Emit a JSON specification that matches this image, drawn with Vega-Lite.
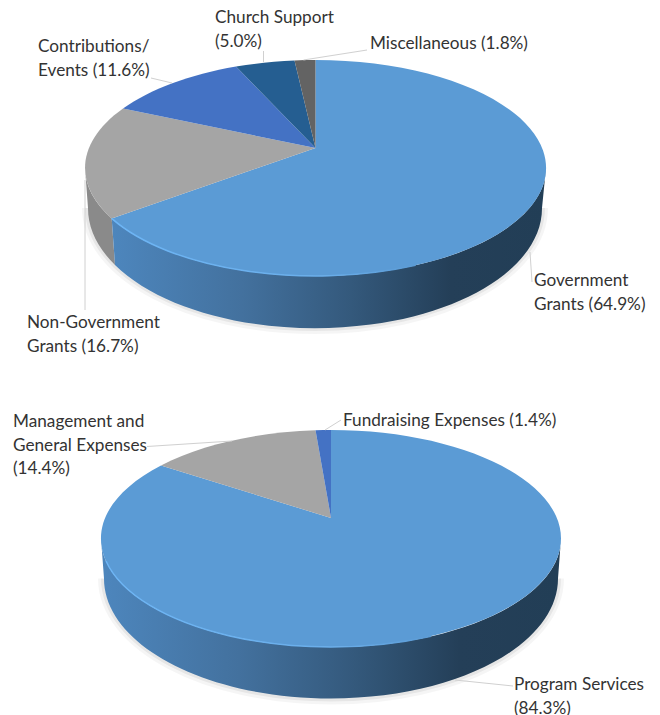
{
"$schema":"https://vega.github.io/schema/vega-lite/v6.json",
"width":660,"height":715,"padding":0,
"autosize":{"type":"fit","contains":"padding"},
"background":"white",
"view":{"stroke":null},
"resolve":{"scale":{"shape":"independent"}},
"data":{"values":[
{"pie":"Support and Revenue","category":"Government Grants","value":64.9,"label":"Government\nGrants (64.9%)"},
{"pie":"Support and Revenue","category":"Non-Government Grants","value":16.7,"label":"Non-Government\nGrants (16.7%)"},
{"pie":"Support and Revenue","category":"Contributions/Events","value":11.6,"label":"Contributions/\nEvents (11.6%)"},
{"pie":"Support and Revenue","category":"Church Support","value":5.0,"label":"Church Support\n(5.0%)"},
{"pie":"Support and Revenue","category":"Miscellaneous","value":1.8,"label":"Miscellaneous (1.8%)"},
{"pie":"Expenses","category":"Program Services","value":84.3,"label":"Program Services\n(84.3%)"},
{"pie":"Expenses","category":"Management and General Expenses","value":14.4,"label":"Management and\nGeneral Expenses\n(14.4%)"},
{"pie":"Expenses","category":"Fundraising Expenses","value":1.4,"label":"Fundraising Expenses (1.4%)"}
]},
"encoding":{
"x":{"field":"pie","type":"nominal","axis":null,"scale":{"type":"point","domain":["Support and Revenue","Expenses"],"range":[315.5,331],"padding":0}},
"y":{"field":"pie","type":"nominal","axis":null,"scale":{"type":"point","domain":["Support and Revenue","Expenses"],"range":[148,518],"padding":0}}
},
"layer":[
{"transform":[{"filter":"datum.category==='Government Grants'"}],
 "mark":{"type":"point","size":4,"filled":false,"opacity":1,"stroke":"#000000","strokeOpacity":0.04,"strokeWidth":12,"shape":"M-227.5,60 A227,120,0,0,0,226.5,60"}},
{"transform":[{"filter":"datum.category==='Government Grants'"}],
 "mark":{"type":"point","size":4,"filled":false,"opacity":1,"stroke":"#000000","strokeOpacity":0.06,"strokeWidth":6,"shape":"M-227.5,60 A227,120,0,0,0,226.5,60"}},
{"transform":[{"filter":"datum.category==='Program Services'"}],
 "mark":{"type":"point","size":4,"filled":false,"opacity":1,"stroke":"#000000","strokeOpacity":0.04,"strokeWidth":12,"shape":"M-227,60.5 A227,120,0,0,0,227,60.5"}},
{"transform":[{"filter":"datum.category==='Program Services'"}],
 "mark":{"type":"point","size":4,"filled":false,"opacity":1,"stroke":"#000000","strokeOpacity":0.06,"strokeWidth":6,"shape":"M-227,60.5 A227,120,0,0,0,227,60.5"}},
{"transform":[{"filter":"datum.category==='Non-Government Grants'"}],
 "mark":{"type":"point","size":4,"filled":true,"opacity":1,"fill":"#8a8a8a","strokeWidth":0,"shape":"M-230.5,20 A230.5,108,0,0,0,-203.8,70.4 L-200.5,117 A227,120,0,0,1,-227.5,60 Z"}},
{"transform":[{"filter":"datum.category==='Government Grants'"}],
 "mark":{"type":"point","size":4,"filled":true,"opacity":1,"strokeWidth":0,"fill":{"gradient":"linear","x1":0,"y1":0,"x2":1,"y2":0,"stops":[{"offset":0,"color":"#4d86bd"},{"offset":0.3,"color":"#43719e"},{"offset":0.55,"color":"#34597c"},{"offset":0.78,"color":"#243f58"},{"offset":1,"color":"#223e56"}]},"shape":"M-203.8,70.4 A230.5,108,0,0,0,230.5,20 L226.5,60 A227,120,0,0,1,-200.5,117 Z"}},
{"transform":[{"filter":"datum.category==='Program Services'"}],
 "mark":{"type":"point","size":4,"filled":true,"opacity":1,"strokeWidth":0,"fill":{"gradient":"linear","x1":0,"y1":0,"x2":1,"y2":0,"stops":[{"offset":0,"color":"#4d86bd"},{"offset":0.3,"color":"#43719e"},{"offset":0.55,"color":"#34597c"},{"offset":0.78,"color":"#243f58"},{"offset":1,"color":"#223e56"}]},"shape":"M-230,20.5 A230,108.5,0,0,0,230,20.5 L227,60.5 A227,120,0,0,1,-227,60.5 Z"}},
{"mark":{"type":"point","size":4,"filled":true,"opacity":1,"strokeWidth":0},
 "encoding":{
  "shape":{"field":"category","type":"nominal","legend":null,"scale":{
   "domain":["Government Grants","Non-Government Grants","Contributions/Events","Church Support","Miscellaneous","Program Services","Management and General Expenses","Fundraising Expenses"],
   "range":[
    "M0,0 L0,-88 A230.5,108,0,1,1,-203.8,70.4 Z",
    "M0,0 L-203.8,70.4 A230.5,108,0,0,1,-192.5,-39.4 Z",
    "M0,0 L-192.5,-39.4 A230.5,108,0,0,1,-79.5,-81.4 Z",
    "M0,0 L-79.5,-81.4 A230.5,108,0,0,1,-21,-87.55 Z",
    "M0,0 L-21,-87.55 A230.5,108,0,0,1,0,-88 Z",
    "M0,0 L0,-88 A230,108.5,0,1,1,-170,-52.6 Z",
    "M0,0 L-170,-52.6 A230,108.5,0,0,1,-15.5,-87.75 Z",
    "M0,0 L-15.5,-87.75 A230,108.5,0,0,1,0,-88 Z"
   ]}},
  "color":{"field":"category","type":"nominal","legend":null,"scale":{
   "domain":["Government Grants","Non-Government Grants","Contributions/Events","Church Support","Miscellaneous","Program Services","Management and General Expenses","Fundraising Expenses"],
   "range":["#5b9bd5","#a5a5a5","#4472c4","#255e91","#636363","#5b9bd5","#a5a5a5","#4472c4"]}},
  "tooltip":{"field":"value","type":"quantitative"}
 }},
{"transform":[{"filter":"datum.category==='Government Grants'"}],
 "mark":{"type":"point","size":4,"filled":false,"opacity":1,"strokeWidth":1.5,"stroke":{"gradient":"linear","x1":0,"y1":0,"x2":1,"y2":0,"stops":[{"offset":0,"color":"#6db5f5"},{"offset":0.7,"color":"#6aaeea"},{"offset":1,"color":"#5b9bd5"}]},"shape":"M-203.8,70.4 A230.5,108,0,0,0,100,117.3"}},
{"transform":[{"filter":"datum.category==='Program Services'"}],
 "mark":{"type":"point","size":4,"filled":false,"opacity":1,"strokeWidth":1.5,"stroke":{"gradient":"linear","x1":0,"y1":0,"x2":1,"y2":0,"stops":[{"offset":0,"color":"#6db5f5"},{"offset":0.7,"color":"#6aaeea"},{"offset":1,"color":"#5b9bd5"}]},"shape":"M-225,43 A230,108.5,0,0,0,100,118.2"}},
{"mark":{"type":"point","size":4,"filled":false,"opacity":1,"stroke":"#d0d0d0","strokeWidth":1},
 "encoding":{"shape":{"field":"category","type":"nominal","legend":null,"scale":{
   "domain":["Government Grants","Non-Government Grants","Contributions/Events","Church Support","Miscellaneous","Program Services","Management and General Expenses","Fundraising Expenses"],
   "range":[
    "M214.5,104 L216.5,134",
    "M-230.5,32 L-230.5,162",
    "M-164.5,-70 L-143.5,-65",
    "M-52,-97 L-52,-86",
    "M-12,-88 L51.5,-98",
    "M124,162 L182,168",
    "M-184,-71.5 L-99,-77",
    "M-6,-88 L10,-98"
   ]}}}},
{"transform":[{"filter":"datum.category==='Government Grants'"}],"mark":{"type":"text","font":"Lato","fontSize":17.2,"color":"#333333","align":"left","baseline":"top","lineBreak":"\n","lineHeight":23.5,"dx":218.5,"dy":124},"encoding":{"text":{"field":"label"}}},
{"transform":[{"filter":"datum.category==='Non-Government Grants'"}],"mark":{"type":"text","font":"Lato","fontSize":17.2,"color":"#333333","align":"left","baseline":"top","lineBreak":"\n","lineHeight":23.5,"dx":-288.5,"dy":166},"encoding":{"text":{"field":"label"}}},
{"transform":[{"filter":"datum.category==='Contributions/Events'"}],"mark":{"type":"text","font":"Lato","fontSize":17.2,"color":"#333333","align":"left","baseline":"top","lineBreak":"\n","lineHeight":23.5,"dx":-277.5,"dy":-110},"encoding":{"text":{"field":"label"}}},
{"transform":[{"filter":"datum.category==='Church Support'"}],"mark":{"type":"text","font":"Lato","fontSize":17.2,"color":"#333333","align":"left","baseline":"top","lineBreak":"\n","lineHeight":23.5,"dx":-100.5,"dy":-139},"encoding":{"text":{"field":"label"}}},
{"transform":[{"filter":"datum.category==='Miscellaneous'"}],"mark":{"type":"text","font":"Lato","fontSize":17.2,"color":"#333333","align":"left","baseline":"top","lineBreak":"\n","lineHeight":23.5,"dx":54.5,"dy":-113},"encoding":{"text":{"field":"label"}}},
{"transform":[{"filter":"datum.category==='Program Services'"}],"mark":{"type":"text","font":"Lato","fontSize":17.2,"color":"#333333","align":"left","baseline":"top","lineBreak":"\n","lineHeight":23.5,"dx":183,"dy":158},"encoding":{"text":{"field":"label"}}},
{"transform":[{"filter":"datum.category==='Management and General Expenses'"}],"mark":{"type":"text","font":"Lato","fontSize":17.2,"color":"#333333","align":"left","baseline":"top","lineBreak":"\n","lineHeight":23.5,"dx":-318,"dy":-105},"encoding":{"text":{"field":"label"}}},
{"transform":[{"filter":"datum.category==='Fundraising Expenses'"}],"mark":{"type":"text","font":"Lato","fontSize":17.2,"color":"#333333","align":"left","baseline":"top","lineBreak":"\n","lineHeight":23.5,"dx":12,"dy":-106},"encoding":{"text":{"field":"label"}}}
]
}
